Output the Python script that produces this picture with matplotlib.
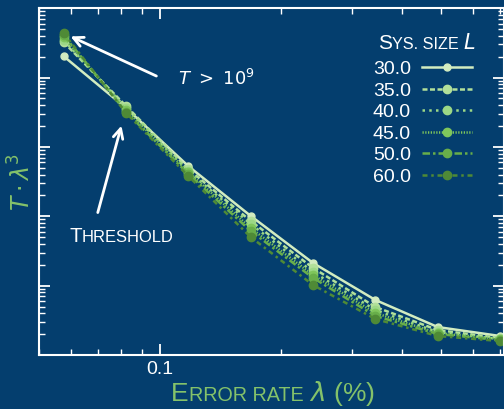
import matplotlib
matplotlib.use("Agg")
import matplotlib.pyplot as plt
from matplotlib.offsetbox import TextArea, HPacker, AnnotationBbox
from matplotlib.ticker import LogLocator, NullFormatter, FixedLocator, FixedFormatter

plt.rcParams["font.family"] = ["Liberation Sans", "DejaVu Sans"]
plt.rcParams["mathtext.fontset"] = "dejavusans"

BG = "#043e6e"
GREEN_LABEL = "#84c26a"

# error rate lambda (%)
error_rate = [0.0576, 0.0824, 0.1176, 0.1681, 0.2401, 0.343, 0.49, 0.7]
sys_sizes = [30.0, 35.0, 40.0, 45.0, 50.0, 60.0]
t_lam3_30 = [0.203, 0.0362, 5.28e-3, 1.01e-3, 2.12e-4, 6.21e-5, 2.53e-5, 1.88e-5]
t_lam3_35 = [0.324, 0.0387, 4.79e-3, 8.53e-4, 1.80e-4, 4.92e-5, 2.29e-5, 1.76e-5]
t_lam3_40 = [0.346, 0.0362, 4.48e-3, 7.73e-4, 1.57e-4, 4.45e-5, 2.14e-5, 1.70e-5]
t_lam3_45 = [0.382, 0.0339, 4.34e-3, 6.76e-4, 1.42e-4, 4.03e-5, 2.07e-5, 1.70e-5]
t_lam3_50 = [0.408, 0.0317, 4.06e-3, 6.12e-4, 1.29e-4, 3.65e-5, 2.01e-5, 1.64e-5]
t_lam3_60 = [0.436, 0.0307, 3.79e-3, 5.01e-4, 1.02e-4, 3.30e-5, 1.88e-5, 1.59e-5]
series = [t_lam3_30, t_lam3_35, t_lam3_40, t_lam3_45, t_lam3_50, t_lam3_60]

colors = ["#d2ecc0", "#b2e09a", "#9cd886", "#7fc65c", "#68ae4a", "#4f8a36"]
styles = ["-", (0, (2, 1)), (0, (1, 1.7)), (0, (0.5, 0.6)),
          (0, (3, 1.2, 1, 1.2)), (0, (2, 1.5, 1, 1.5))]
msizes = [5, 6, 6, 6, 6, 6]


def small_caps(parts, color, big, small):
    # parts: list of (text, use_big_size)
    boxes = [TextArea(t, textprops=dict(color=color, fontsize=big if b else small))
             for t, b in parts]
    return HPacker(children=boxes, align="baseline", pad=0, sep=0)


fig = plt.figure(figsize=(5.04, 4.09), dpi=100)
fig.patch.set_facecolor(BG)
ax = fig.add_axes([0.0772, 0.132, 0.9228, 0.848])
ax.set_facecolor(BG)

lines = []
for vals, c, ls, ms in zip(series, colors, styles, msizes):
    ln, = ax.plot(error_rate, vals, color=c, linestyle=ls, lw=1.8,
                  marker="o", markersize=ms)
    lines.append(ln)

ax.set_xscale("log")
ax.set_yscale("log")
ax.set_xlim(0.05, 0.716)
ax.set_ylim(1e-5, 1)

for s in ax.spines.values():
    s.set_color("white")
    s.set_linewidth(1.5)

ax.xaxis.set_major_locator(FixedLocator([0.1]))
ax.xaxis.set_major_formatter(FixedFormatter(["0.1"]))
ax.xaxis.set_minor_locator(LogLocator(base=10, subs=range(2, 10)))
ax.xaxis.set_minor_formatter(NullFormatter())
ax.yaxis.set_major_locator(LogLocator(base=10, numticks=10))
ax.yaxis.set_minor_locator(LogLocator(base=10, subs=range(2, 10), numticks=10))
ax.yaxis.set_major_formatter(NullFormatter())
ax.yaxis.set_minor_formatter(NullFormatter())
ax.tick_params(which="both", direction="in", colors="white", top=True, right=True,
               labelsize=14, pad=4)
ax.tick_params(which="major", length=8, width=1.3)
ax.tick_params(which="minor", length=4, width=1.0)

ax.set_ylabel(r"$T \cdot \lambda^3$", color=GREEN_LABEL, fontsize=17)
ax.yaxis.set_label_coords(-0.008, 0.5)

xlabel = small_caps([("E", True), ("RROR RATE", False), (r" $\lambda$ (%)", True)],
                    GREEN_LABEL, 19, 14.2)
fig.add_artist(AnnotationBbox(xlabel, (0.542, 0.002), xycoords="figure fraction",
                              box_alignment=(0.5, 0), frameon=False, pad=0))

leg = ax.legend(lines, [f"{s:.1f}" for s in sys_sizes], loc="upper left",
                bbox_to_anchor=(0.718, 0.849), frameon=False, markerfirst=False,
                handlelength=2.6, handletextpad=0.55, labelspacing=0.2,
                fontsize=14, labelcolor="white", borderpad=0, borderaxespad=0)

title = small_caps([("S", True), ("YS. SIZE ", False), (r"$L$", True)],
                   "white", 15, 11.7)
ax.add_artist(AnnotationBbox(title, (0.729, 0.872), xycoords="axes fraction",
                             box_alignment=(0, 0), frameon=False, pad=0))

arrow = dict(arrowstyle="->,head_length=0.7,head_width=0.35", color="white", lw=2)
ax.annotate("", xy=(0.0626, 0.922), xytext=(0.258, 0.801),
            xycoords="axes fraction", textcoords="axes fraction", arrowprops=arrow)
ax.text(0.299, 0.795, r"$T\ >\ 10^9$", transform=ax.transAxes, color="white",
        fontsize=13, va="center", ha="left")

ax.annotate("", xy=(0.179, 0.669), xytext=(0.125, 0.403),
            xycoords="axes fraction", textcoords="axes fraction", arrowprops=arrow)
thr = small_caps([("T", True), ("HRESHOLD", False)], "white", 14.8, 11.9)
ax.add_artist(AnnotationBbox(thr, (0.065, 0.315), xycoords="axes fraction",
                             box_alignment=(0, 0), frameon=False, pad=0))

fig.savefig("out.png", dpi=100, facecolor=BG)
